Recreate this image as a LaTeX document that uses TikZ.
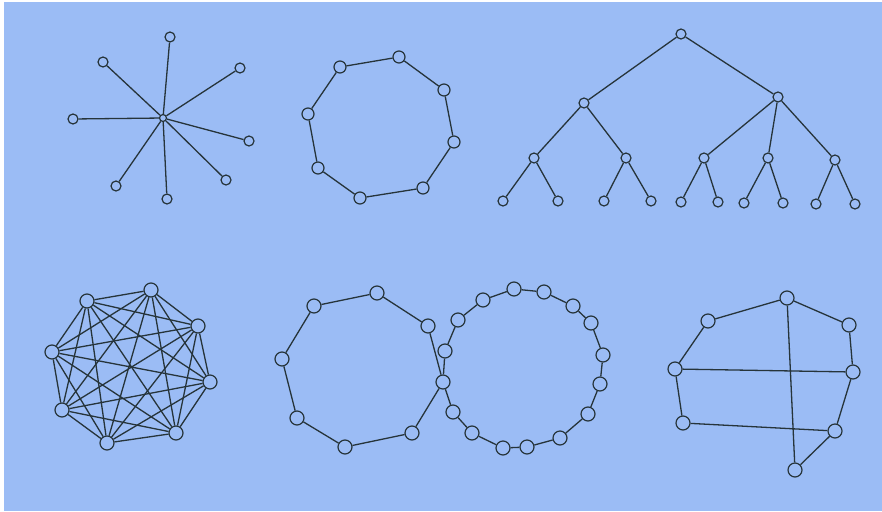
\documentclass[tikz,border=0pt]{standalone}
\definecolor{bg}{RGB}{155,188,245}
\definecolor{ink}{RGB}{38,52,58}
\begin{document}
\begin{tikzpicture}[x=1pt,y=-1pt,
  vtx/.style={circle,draw=ink,fill=bg,line width=1.2pt,inner sep=0pt,minimum size=12pt},
  sml/.style={vtx,minimum size=10pt},
  hub/.style={vtx,minimum size=7pt},
  big/.style={vtx,minimum size=14pt},
  edge/.style={draw=ink,line width=1.3pt}]
\fill[white] (0,0) rectangle (882,511);
\fill[bg] (4,2) rectangle (882,511);
\useasboundingbox (0,0) rectangle (882,511);
% star
\node[hub] (s0) at (163,118) {};
\foreach \n/\x/\y in {1/170/37,2/103/62,3/240/68,4/73/119,5/249/141,6/226/180,7/167/199,8/116/186}{
  \node[sml] (s\n) at (\x,\y) {};
  \draw[edge] (s0) -- (s\n);
}
% ring of 8
\foreach \n/\x/\y in {1/340/67,2/399/57,3/444/90,4/454/142,5/423/188,6/360/198,7/318/168,8/308/114}
  \node[vtx] (r\n) at (\x,\y) {};
\draw[edge] (r1)--(r2) (r2)--(r3) (r3)--(r4) (r4)--(r5) (r5)--(r6) (r6)--(r7) (r7)--(r8) (r8)--(r1);
% tree
\node[sml] (t0) at (681,34) {};
\node[sml] (tA) at (584,103) {};
\node[sml] (tB) at (778,97) {};
\foreach \n/\x/\y in {1/534/158,2/626/158,3/704/158,4/768/158,5/835/160}
  \node[sml] (tm\n) at (\x,\y) {};
\foreach \n/\x/\y in {1/503/201,2/558/201,3/604/201,4/651/201,5/681/202,6/718/202,7/744/203,8/783/203,9/816/204,10/855/204}
  \node[sml] (tl\n) at (\x,\y) {};
\draw[edge] (t0)--(tA) (t0)--(tB) (tA)--(tm1) (tA)--(tm2) (tB)--(tm3) (tB)--(tm4) (tB)--(tm5)
  (tm1)--(tl1) (tm1)--(tl2) (tm2)--(tl3) (tm2)--(tl4) (tm3)--(tl5) (tm3)--(tl6)
  (tm4)--(tl7) (tm4)--(tl8) (tm5)--(tl9) (tm5)--(tl10);
% complete graph K8
\foreach \n/\x/\y in {1/87/301,2/151/290,3/198/326,4/210/382,5/176/433,6/107/443,7/62/410,8/52/352}
  \node[big] (k\n) at (\x,\y) {};
\foreach \i in {1,...,7}{
  \pgfmathtruncatemacro\nx{\i+1}
  \foreach \j in {\nx,...,8}
    \draw[edge] (k\i) -- (k\j);
}
% figure eight
\node[big] (c0) at (443,382) {};
\foreach \n/\x/\y in {1/314/306,2/377/293,3/428/326,4/412/433,5/345/447,6/297/418,7/282/359}
  \node[big] (p\n) at (\x,\y) {};
\foreach \n/\x/\y in {1/445/351,2/458/320,3/483/300,4/514/289,5/544/292,6/573/306,7/591/323,8/603/355,9/600/384,10/588/414,11/560/438,12/527/447,13/503/448,14/472/433,15/453/412}
  \node[big] (q\n) at (\x,\y) {};
\draw[edge] (p1)--(p2) (p2)--(p3) (p3)--(c0) (c0)--(p4) (p4)--(p5) (p5)--(p6) (p6)--(p7) (p7)--(p1);
\draw[edge] (c0)--(q1) (q1)--(q2) (q2)--(q3) (q3)--(q4) (q4)--(q5) (q5)--(q6) (q6)--(q7) (q7)--(q8)
  (q8)--(q9) (q9)--(q10) (q10)--(q11) (q11)--(q12) (q12)--(q13) (q13)--(q14) (q14)--(q15) (q15)--(c0);
% last graph
\foreach \n/\x/\y in {1/787/298,2/849/325,3/853/372,4/835/431,5/795/470,6/683/423,7/675/369,8/708/321}
  \node[big] (g\n) at (\x,\y) {};
\draw[edge] (g8)--(g1) (g1)--(g2) (g2)--(g3) (g3)--(g4) (g4)--(g5) (g1)--(g5)
  (g7)--(g3) (g6)--(g4) (g7)--(g6) (g7)--(g8);
\end{tikzpicture}
\end{document}
